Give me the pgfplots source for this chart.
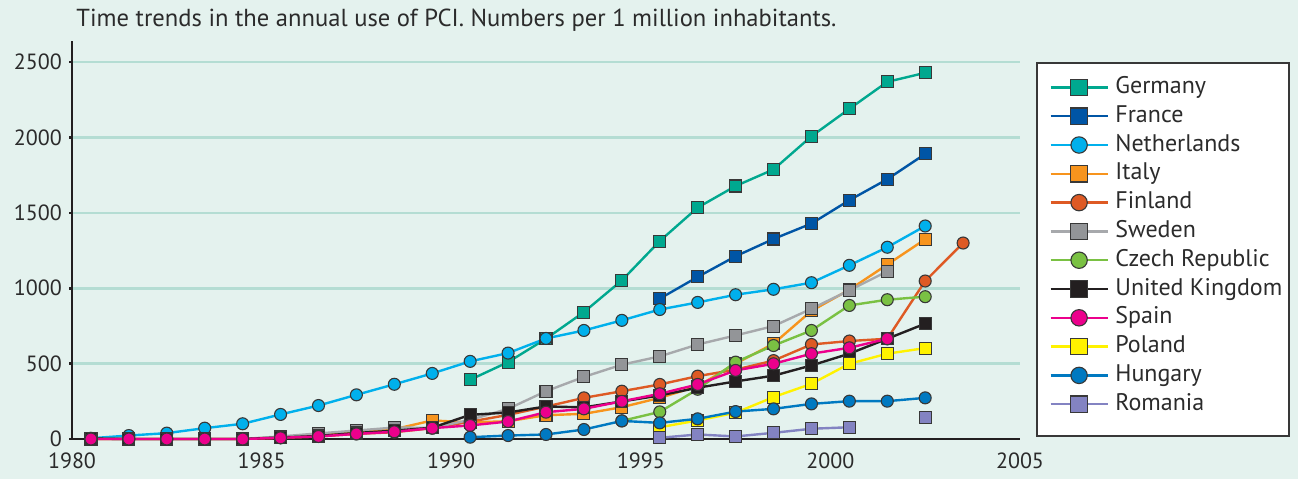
\documentclass[border=0pt]{standalone}
\usepackage{pgfplots}
\pgfplotsset{compat=1.18}
\usepackage{fontspec}
\setmainfont{PT Sans}
\definecolor{bg}{HTML}{E4F2EE}
\definecolor{gridcol}{HTML}{B4DDD3}
\definecolor{axcol}{HTML}{231F20}
\definecolor{textcol}{HTML}{2B2B2B}
\definecolor{mkedge}{HTML}{383838}
\definecolor{cDE}{HTML}{00A88F}
\definecolor{cFR}{HTML}{0055A5}
\definecolor{cNL}{HTML}{00B0EC}
\definecolor{cIT}{HTML}{F7941D}
\definecolor{cFI}{HTML}{DE5A24}
\definecolor{cSEl}{HTML}{A7A9AC}
\definecolor{cSE}{HTML}{939598}
\definecolor{cCZ}{HTML}{7AC143}
\definecolor{cUK}{HTML}{231F20}
\definecolor{cES}{HTML}{EC008C}
\definecolor{cPL}{HTML}{FFF200}
\definecolor{cHU}{HTML}{0079C1}
\definecolor{cRO}{HTML}{8383C2}
\pgfplotsset{
  ser/.style n args={3}{draw=#1, line width=1.2pt, mark=#3, mark size=3pt,
    mark options={fill=#2, draw=mkedge, line width=0.55pt, solid}},
}
\begin{document}
\begin{tikzpicture}[x=1pt,y=1pt]
\useasboundingbox (0,0) rectangle (649,239.5);
\fill[bg] (0,0) rectangle (649,239.5);
\draw[fill=white, draw=mkedge, line width=0.7pt] (518.5,208) rectangle (644.5,21.5);
\begin{axis}[
  at={(36pt,20pt)}, anchor=south west, scale only axis,
  width=474pt, height=199pt,
  xmin=1980, xmax=2005, ymin=0, ymax=2640,
  axis lines=left, axis line style={-, line width=1.3pt, color=axcol},
  xtick={1980,1985,1990,1995,2000,2005},
  ytick={0,500,1000,1500,2000,2500},
  ymajorgrids, grid style={line width=1.3pt, color=gridcol},
  tick align=outside, major tick length=1.5pt,
  xtick style={draw=none},
  ytick style={line width=1.3pt, color=axcol},
  tick label style={font=\fontsize{11}{13}\selectfont, text=textcol},
  xticklabel style={yshift=-1.8pt},
  /pgf/number format/assume math mode=true,
  /pgf/number format/1000 sep={},
  clip=false,
  unbounded coords=jump,
  legend style={at={(1.01793,0.94472)}, anchor=north west, draw=none, fill=none,
    inner xsep=6pt, inner ysep=6.5pt, row sep=3.4pt,
    font=\fontsize{12}{14}\selectfont, text=textcol,
    nodes={inner sep=0pt, anchor=west, text height=8.5pt, text depth=2.5pt},
    /tikz/every odd column/.append style={column sep=3.3pt}},
  legend cell align=left,
  legend image code/.code={\draw[mark repeat=2,mark phase=2,#1] plot coordinates {(0pt,0pt) (14.25pt,0pt) (28.5pt,0pt)};},
  legend image post style={mark size=4.1pt},
]
\addplot[ser={cDE}{cDE}{square*}] coordinates {(1990.5,393)(1991.5,510)(1992.5,665)(1993.5,842)(1994.5,1052)(1995.5,1313)(1996.5,1535)(1997.5,1678)(1998.5,1788)(1999.5,2008)(2000.5,2190)(2001.5,2369)(2002.5,2429)};
\addlegendentry{Germany}
\addplot[ser={cFR}{cFR}{square*}] coordinates {(1995.5,931)(1996.5,1075)(1997.5,1212)(1998.5,1327)(1999.5,1429)(2000.5,1584)(2001.5,1723)(2002.5,1891)};
\addlegendentry{France}
\addplot[ser={cNL}{cNL}{*}] coordinates {(1980.5,5)(1981.5,23)(1982.5,39)(1983.5,72)(1984.5,101)(1985.5,163)(1986.5,222)(1987.5,293)(1988.5,363)(1989.5,435)(1990.5,515)(1991.5,570)(1992.5,667)(1993.5,720)(1994.5,787)(1995.5,859)(1996.5,906)(1997.5,957)(1998.5,993)(1999.5,1037)(2000.5,1152)(2001.5,1272)(2002.5,1413)};
\addlegendentry{Netherlands}
\addplot[ser={cIT}{cIT}{square*}] coordinates {(1980.5,0)(1981.5,0)(1982.5,0)(1983.5,0)(1984.5,0)(1985.5,12)(1986.5,28)(1987.5,45)(1988.5,65)(1989.5,123)(1990.5,110)(1991.5,118)(1992.5,158)(1993.5,167)(1994.5,211)(1995.5,273)(1996.5,350)(1997.5,500)(1998.5,632)(1999.5,850)(2000.5,990)(2001.5,1157)(2002.5,1325)};
\addlegendentry{Italy}
\addplot[ser={cFI}{cFI}{*}] coordinates {(1980.5,0)(1981.5,0)(1982.5,0)(1983.5,0)(1984.5,0)(1985.5,8)(1986.5,17)(1987.5,34)(1988.5,45)(1989.5,72)(1990.5,115)(1991.5,160)(1992.5,215)(1993.5,273)(1994.5,317)(1995.5,362)(1996.5,417)(1997.5,460)(1998.5,520)(1999.5,627)(2000.5,650)(2001.5,665)(2002.5,1048)(2003.5,1300)};
\addlegendentry{Finland}
\addplot[ser={cSEl}{cSE}{square*}] coordinates {(1980.5,0)(1981.5,0)(1982.5,0)(1983.5,0)(1984.5,0)(1985.5,17)(1986.5,37)(1987.5,56)(1988.5,76)(1989.5,74)(1990.5,127)(1991.5,200)(1992.5,317)(1993.5,412)(1994.5,493)(1995.5,548)(1996.5,627)(1997.5,687)(1998.5,749)(1999.5,864)(2000.5,986)(2001.5,1112)};
\addlegendentry{Sweden}
\addplot[ser={cCZ}{cCZ}{*}] coordinates {(1994.5,120)(1995.5,180)(1996.5,330)(1997.5,510)(1998.5,620)(1999.5,720)(2000.5,886)(2001.5,924)(2002.5,944)};
\addlegendentry{Czech Republic}
\addplot[ser={cUK}{cUK}{square*}] coordinates {(1980.5,3)(1981.5,0)(1982.5,0)(1983.5,0)(1984.5,0)(1985.5,10)(1986.5,20)(1987.5,40)(1988.5,55)(1989.5,75)(1990.5,160)(1991.5,176)(1992.5,216)(1993.5,210)(1994.5,249)(1995.5,289)(1996.5,340)(1997.5,382)(1998.5,420)(1999.5,488)(2000.5,566)(2001.5,665)(2002.5,765)};
\addlegendentry{United Kingdom}
\addplot[ser={cES}{cES}{*}] coordinates {(1980.5,0)(1981.5,0)(1982.5,0)(1983.5,0)(1984.5,0)(1985.5,8)(1986.5,17)(1987.5,34)(1988.5,48)(1989.5,72)(1990.5,90)(1991.5,116)(1992.5,178)(1993.5,200)(1994.5,250)(1995.5,300)(1996.5,362)(1997.5,455)(1998.5,499)(1999.5,566)(2000.5,605)(2001.5,665)};
\addlegendentry{Spain}
\addplot[ser={cPL}{cPL}{square*}] coordinates {(1995.5,78)(1996.5,123)(1997.5,174)(1998.5,278)(1999.5,366)(2000.5,499)(2001.5,566)(2002.5,603)};
\addlegendentry{Poland}
\addplot[ser={cHU}{cHU}{*}] coordinates {(1990.5,12)(1991.5,23)(1992.5,30)(1993.5,63)(1994.5,120)(1995.5,107)(1996.5,134)(1997.5,182)(1998.5,200)(1999.5,233)(2000.5,251)(2001.5,251)(2002.5,273)};
\addlegendentry{Hungary}
\addplot[ser={cRO}{cRO}{square*}] coordinates {(1995.5,8)(1996.5,30)(1997.5,17)(1998.5,41)(1999.5,68)(2000.5,78)(2001.5,nan)(2002.5,143)};
\addlegendentry{Romania}
\node[anchor=base west, inner sep=0pt, xshift=2pt, yshift=7.15pt, font=\fontsize{12.3}{14}\selectfont, text=textcol] at (rel axis cs:0,1) {Time trends in the annual use of PCI. Numbers per 1 million inhabitants.};
\end{axis}
\end{tikzpicture}
\end{document}
